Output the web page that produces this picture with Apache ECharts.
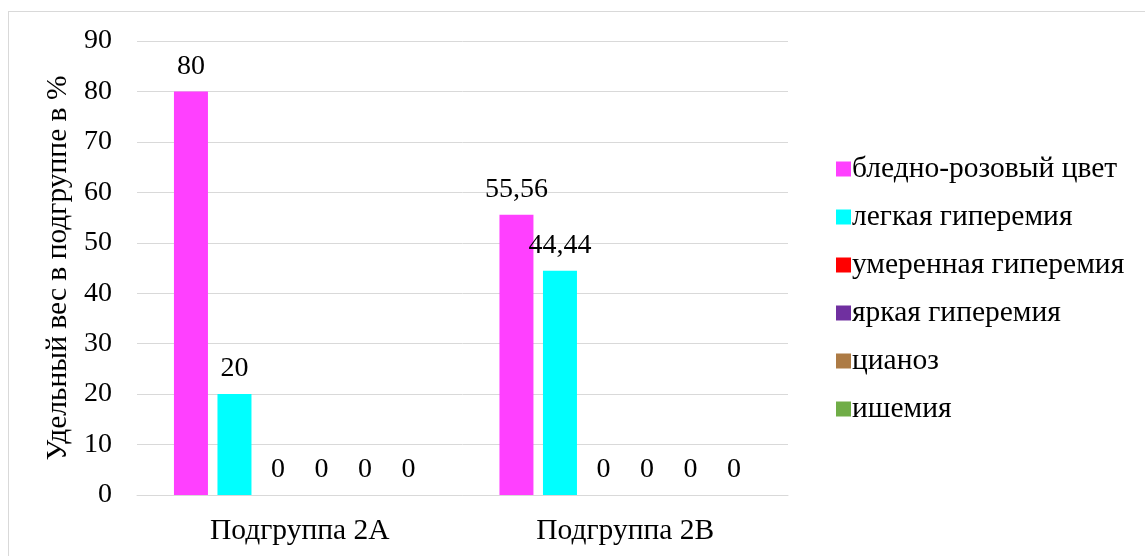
<!DOCTYPE html>
<html>
<head>
<meta charset="utf-8">
<script src="https://cdn.jsdelivr.net/npm/echarts@6/dist/echarts.min.js"></script>
<style>
  html, body { margin: 0; padding: 0; background: #fff; overflow: hidden; }
  #frame { position: absolute; left: 8px; top: 11px; width: 1300px; height: 700px; border: 1px solid #d9d9d9; box-sizing: border-box; }
  #chart { position: absolute; left: 0; top: 0; width: 1145px; height: 556px; }
</style>
</head>
<body>
<div id="frame"></div>
<div id="chart"></div>
<script>
// Subgroups on the category axis
const categories = ['Подгруппа 2A', 'Подгруппа 2B'];

// Share of each mucosa state per subgroup, %
const seriesNames = [
  'бледно-розовый цвет',
  'легкая гиперемия',
  'умеренная гиперемия',
  'яркая гиперемия',
  'цианоз',
  'ишемия'
];
const palePink   = [80, 55.56];
const mildHyper  = [20, 44.44];
const moderHyper = [0, 0];
const brightHyper = [0, 0];
const cyanosis   = [0, 0];
const ischemia   = [0, 0];

const yTicks = { min: 0, max: 90, step: 10 };

const palette = ['#FF40FF', '#00FFFF', '#FF0000', '#7030A0', '#AD7B45', '#70AD47'];
const seriesValues = [palePink, mildHyper, moderHyper, brightHyper, cyanosis, ischemia];

const FONT = '"Liberation Serif", "Times New Roman", serif';
const TEXT_SIZE = 29.5;   // words: legend, axis names, categories
const NUM_SIZE = 28;      // numbers: ticks and bar labels

const chart = echarts.init(document.getElementById('chart'), null, { renderer: 'canvas' });

chart.setOption({
  backgroundColor: 'transparent',
  animation: false,
  textStyle: { fontFamily: FONT, color: '#000' },
  grid: { left: 137, right: 357, top: 41, bottom: 61, containLabel: false },
  legend: {
    orient: 'vertical',
    left: 831,
    top: 149,
    itemWidth: 15,
    itemHeight: 15,
    itemGap: 18,
    icon: 'rect',
    textStyle: { fontFamily: FONT, fontSize: TEXT_SIZE, color: '#000', padding: [0, 0, 0, -4], lineHeight: 30 },
    data: seriesNames
  },
  xAxis: {
    type: 'category',
    data: categories,
    axisLine: { lineStyle: { color: '#d9d9d9', width: 1 } },
    axisTick: { show: false },
    axisLabel: { fontFamily: FONT, fontSize: TEXT_SIZE, color: '#000', margin: 21 }
  },
  yAxis: {
    type: 'value',
    min: yTicks.min,
    max: yTicks.max,
    interval: yTicks.step,
    name: 'Удельный вес в подгруппе в %',
    nameLocation: 'middle',
    nameGap: 64,
    nameTextStyle: { fontFamily: FONT, fontSize: TEXT_SIZE, color: '#000' },
    axisLine: { show: false },
    axisTick: { show: false },
    axisLabel: { fontFamily: FONT, fontSize: NUM_SIZE, color: '#000', margin: 25 },
    splitLine: { lineStyle: { color: '#d9d9d9', width: 1 } }
  },
  series: seriesNames.map((name, i) => ({
    name,
    type: 'bar',
    data: seriesValues[i],
    barWidth: 34,
    barGap: '28%',
    itemStyle: { color: palette[i] },
    label: {
      show: true,
      position: 'top',
      distance: 11,
      fontFamily: FONT,
      fontSize: NUM_SIZE,
      color: '#000',
      formatter: p => String(p.value).replace('.', ',')
    }
  }))
});
</script>
</body>
</html>
